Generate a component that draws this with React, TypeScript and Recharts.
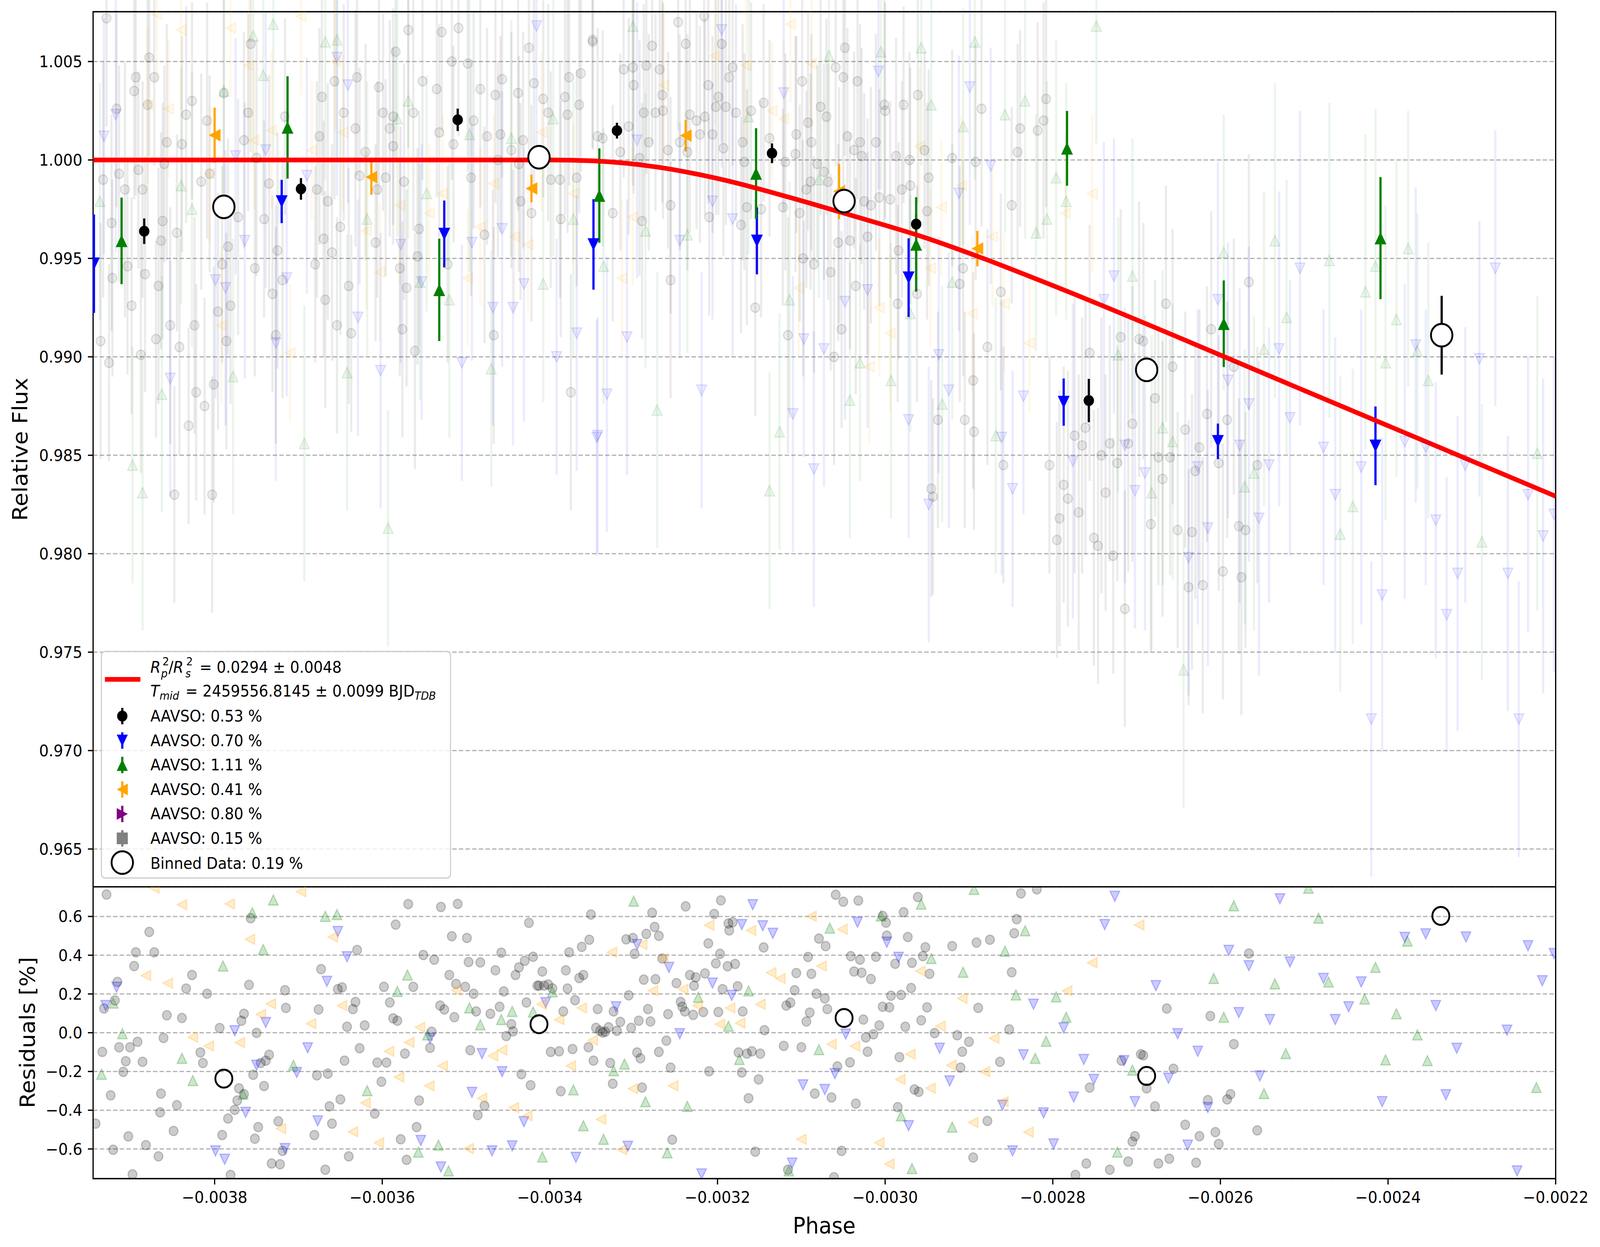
import {
  ComposedChart,
  Scatter,
  Line,
  XAxis,
  YAxis,
  CartesianGrid,
  ErrorBar,
  ReferenceArea,
} from 'recharts'

// ---- axes -------------------------------------------------------------
const PHASE_DOMAIN = [-0.003945, -0.0022]
const PHASE_TICKS = [-0.0038, -0.0036, -0.0034, -0.0032, -0.003, -0.0028, -0.0026, -0.0024, -0.0022]
const FLUX_DOMAIN = [0.96308, 1.00753]
const FLUX_TICKS = [0.965, 0.97, 0.975, 0.98, 0.985, 0.99, 0.995, 1.0, 1.005]
const RESID_DOMAIN = [-0.753, 0.753]
const RESID_TICKS = [-0.6, -0.4, -0.2, 0, 0.2, 0.4, 0.6]

// ---- transit model ----------------------------------------------------
const MODEL_PHASE = [-0.003945, -0.0034, -0.003351, -0.003272, -0.003193, -0.003114, -0.003036, -0.002957, -0.002878, -0.0028, -0.0025, -0.0022]
const MODEL_FLUX = [1.0, 1.0, 0.99996, 0.99964, 0.99899, 0.9981, 0.99713, 0.99612, 0.99492, 0.99362, 0.98829, 0.98292]

// ---- highlighted AAVSO points [phase, flux, err] ----------------------
const MAIN_BLACK = [
  [-0.003884, 0.99638, 0.00065], [-0.003697, 0.99853, 0.00055], [-0.00351, 1.00204, 0.00057],
  [-0.00332, 1.00149, 0.0004], [-0.003135, 1.00034, 0.0005], [-0.002963, 0.99674, 0.0005],
  [-0.002757, 0.98778, 0.0011],
]
const MAIN_BLUE = [
  [-0.003944, 0.99473, 0.0025], [-0.00372, 0.99789, 0.0011], [-0.003526, 0.99624, 0.0017],
  [-0.003348, 0.99571, 0.0023], [-0.003153, 0.99589, 0.0017], [-0.002972, 0.99402, 0.002],
  [-0.002787, 0.9877, 0.0012], [-0.002603, 0.98571, 0.0009], [-0.002415, 0.98548, 0.002],
]
const MAIN_GREEN = [
  [-0.003911, 0.99589, 0.0022], [-0.003713, 1.00165, 0.0026], [-0.003532, 0.9934, 0.0026],
  [-0.003341, 0.99819, 0.0024], [-0.003154, 0.99931, 0.0023], [-0.002963, 0.99571, 0.0024],
  [-0.002783, 1.00059, 0.0019], [-0.002596, 0.99168, 0.0022], [-0.002409, 0.99603, 0.0031],
]
const MAIN_ORANGE = [
  [-0.0038, 1.00126, 0.0014], [-0.003613, 0.99913, 0.0009], [-0.003422, 0.99855, 0.0007],
  [-0.003238, 1.00124, 0.0008], [-0.003055, 0.9984, 0.0014], [-0.00289, 0.9955, 0.0009],
]
const BINNED = [
  [-0.003789, 0.99762, 0.0004], [-0.003413, 1.00014, 0.0004], [-0.003049, 0.99791, 0.0006],
  [-0.002688, 0.98934, 0.0006], [-0.002336, 0.9911, 0.002],
]

// ---- faint raw measurements [phase, flux, err] ------------------------
const RAW_GRAY = [
  [-0.003929, 1.0072, 0.0055], [-0.003878, 1.0052, 0.005], [-0.003894, 1.0042, 0.006], [-0.003872, 1.0042, 0.0045],
  [-0.003896, 1.0035, 0.0055], [-0.003827, 1.003, 0.005], [-0.00388, 1.0028, 0.0065], [-0.003834, 1.0023, 0.0055],
  [-0.003809, 1.002, 0.006], [-0.00376, 1.0024, 0.005], [-0.003757, 1.0059, 0.0055], [-0.003789, 1.0034, 0.006],
  [-0.003917, 1.0026, 0.005], [-0.003933, 0.999, 0.006], [-0.003914, 0.9993, 0.0055], [-0.003891, 0.9995, 0.005],
  [-0.003907, 0.9985, 0.0065], [-0.003886, 0.9985, 0.0055], [-0.00386, 0.9998, 0.005], [-0.003857, 1.0009, 0.006],
  [-0.003839, 1.0008, 0.0055], [-0.003923, 0.9968, 0.0055], [-0.003862, 0.9969, 0.006], [-0.003845, 0.9963, 0.005],
  [-0.003864, 0.9959, 0.0055], [-0.003883, 0.9942, 0.006], [-0.003904, 0.9946, 0.0055], [-0.003922, 0.994, 0.005],
  [-0.003867, 0.9936, 0.006], [-0.003899, 0.9926, 0.0055], [-0.003853, 0.9916, 0.006], [-0.003824, 0.9916, 0.0055],
  [-0.00387, 0.9909, 0.005], [-0.003888, 0.9901, 0.006], [-0.003842, 0.9905, 0.0055], [-0.003926, 0.9897, 0.005],
  [-0.003936, 0.9908, 0.006], [-0.003822, 0.9882, 0.0055], [-0.003801, 0.9886, 0.006], [-0.003812, 0.9875, 0.0055],
  [-0.003831, 0.9865, 0.005], [-0.003848, 0.983, 0.0055], [-0.003803, 0.983, 0.006], [-0.003816, 0.9989, 0.0055],
  [-0.003806, 0.9993, 0.005], [-0.003772, 0.9971, 0.006], [-0.003784, 0.9956, 0.0055], [-0.003791, 0.9947, 0.005],
  [-0.003796, 0.9923, 0.006], [-0.003786, 0.9908, 0.0055], [-0.003781, 0.9926, 0.005], [-0.003765, 1.001, 0.0055],
  [-0.00375, 1.0001, 0.006], [-0.003735, 0.9988, 0.0055], [-0.003741, 0.997, 0.005], [-0.003725, 0.9954, 0.006],
  [-0.003752, 0.9945, 0.0055], [-0.003731, 0.9932, 0.005], [-0.003719, 0.9939, 0.006], [-0.003727, 0.9911, 0.0055],
  [-0.003716, 1.0022, 0.005], [-0.003678, 0.9985, 0.0055], [-0.003665, 0.9979, 0.006], [-0.003675, 1.0012, 0.0055],
  [-0.003672, 1.0032, 0.005], [-0.003657, 1.004, 0.006], [-0.003646, 1.0024, 0.0055], [-0.00363, 1.0042, 0.005],
  [-0.003604, 1.0037, 0.0055], [-0.003569, 1.0066, 0.006], [-0.003584, 1.0055, 0.0055], [-0.003529, 1.0065, 0.005],
  [-0.003509, 1.0067, 0.0055], [-0.003517, 1.005, 0.006], [-0.003498, 1.0049, 0.0055], [-0.003552, 1.004, 0.005],
  [-0.003535, 1.0036, 0.0055], [-0.003483, 1.0036, 0.006], [-0.003465, 1.0033, 0.0055], [-0.003457, 1.0041, 0.005],
  [-0.003425, 1.0057, 0.0055], [-0.003438, 1.0034, 0.006], [-0.003419, 1.0039, 0.0055], [-0.003408, 1.0031, 0.005],
  [-0.003402, 1.0024, 0.0055], [-0.003382, 1.0032, 0.006], [-0.003377, 1.0042, 0.0055], [-0.003363, 1.0044, 0.005],
  [-0.003349, 1.006, 0.0055], [-0.003379, 1.0023, 0.006], [-0.003365, 1.0028, 0.0055], [-0.003599, 1.0024, 0.005],
  [-0.003587, 1.0022, 0.0055], [-0.003563, 1.0024, 0.006], [-0.003591, 1.0016, 0.0055], [-0.003587, 1.0007, 0.005],
  [-0.00362, 1.0004, 0.0055], [-0.003632, 1.0016, 0.006], [-0.003627, 0.9992, 0.0055], [-0.003596, 0.9991, 0.005],
  [-0.003606, 0.9985, 0.0055], [-0.003574, 0.9989, 0.006], [-0.003532, 1.0014, 0.0055], [-0.003515, 1.0008, 0.005],
  [-0.003491, 1.002, 0.0055], [-0.003494, 0.9991, 0.006], [-0.003475, 1.0012, 0.0055], [-0.003459, 1.0013, 0.005],
  [-0.003432, 1.001, 0.0055], [-0.003446, 1.0005, 0.006], [-0.003437, 0.9998, 0.0055], [-0.003462, 1.0, 0.005],
  [-0.003399, 0.999, 0.0055], [-0.003388, 0.999, 0.006], [-0.003368, 0.9991, 0.0055], [-0.003435, 0.9979, 0.005],
  [-0.003422, 0.9973, 0.0055], [-0.003387, 0.997, 0.006], [-0.003343, 1.0012, 0.0055], [-0.003608, 0.9958, 0.005],
  [-0.00365, 0.9966, 0.0055], [-0.00367, 0.996, 0.006], [-0.00366, 0.9953, 0.0055], [-0.00368, 0.9947, 0.005],
  [-0.003668, 0.9929, 0.0055], [-0.00364, 0.9936, 0.006], [-0.003579, 0.9945, 0.0055], [-0.003571, 0.9935, 0.005],
  [-0.003558, 0.9951, 0.0055], [-0.003556, 0.9965, 0.006], [-0.003478, 0.9962, 0.0055], [-0.003522, 0.9947, 0.005],
  [-0.003576, 0.9914, 0.0055], [-0.003561, 0.9903, 0.006], [-0.003654, 0.9916, 0.0055], [-0.003637, 0.9912, 0.005],
  [-0.003467, 0.9911, 0.0055], [-0.003375, 0.9882, 0.006],
  [-0.003349, 1.0061, 0.0055], [-0.003278, 1.0058, 0.005], [-0.003247, 1.007, 0.0055], [-0.003216, 1.0073, 0.006],
  [-0.003238, 1.0059, 0.0055], [-0.003195, 1.0059, 0.005], [-0.003312, 1.0046, 0.0055], [-0.003301, 1.0047, 0.006],
  [-0.003285, 1.0048, 0.0055], [-0.003269, 1.0046, 0.005], [-0.0033, 1.0038, 0.0055], [-0.003211, 1.0038, 0.006],
  [-0.003266, 1.0033, 0.0055], [-0.003182, 1.0047, 0.005], [-0.003186, 1.0042, 0.0055], [-0.003199, 1.0032, 0.006],
  [-0.003288, 1.0024, 0.0055], [-0.003274, 1.0024, 0.005], [-0.003265, 1.0025, 0.0055], [-0.003233, 1.0023, 0.006],
  [-0.003225, 1.002, 0.0055], [-0.003215, 1.0022, 0.005], [-0.003178, 1.0024, 0.0055], [-0.00319, 1.0027, 0.006],
  [-0.003202, 1.0027, 0.0055], [-0.003145, 1.0029, 0.005], [-0.00316, 1.0025, 0.0055], [-0.003099, 1.004, 0.006],
  [-0.003048, 1.0057, 0.0055], [-0.003059, 1.0047, 0.005], [-0.00305, 1.0042, 0.0055], [-0.003033, 1.004, 0.006],
  [-0.003077, 1.0027, 0.0055], [-0.00307, 1.0022, 0.005], [-0.003092, 1.0019, 0.0055], [-0.003001, 1.0028, 0.006],
  [-0.003, 1.0025, 0.0055], [-0.002978, 1.0028, 0.005], [-0.002961, 1.0033, 0.0055], [-0.002885, 1.0026, 0.006],
  [-0.002808, 1.0031, 0.0055], [-0.002839, 1.0016, 0.005], [-0.002818, 1.0015, 0.0055], [-0.002811, 1.002, 0.006],
  [-0.003337, 1.0011, 0.0055], [-0.003316, 1.0004, 0.005], [-0.003306, 1.0017, 0.0055], [-0.003293, 1.0001, 0.006],
  [-0.003282, 1.0009, 0.0055], [-0.003259, 1.0005, 0.005], [-0.003245, 1.0009, 0.0055], [-0.003236, 1.0004, 0.006],
  [-0.003221, 1.0013, 0.0055], [-0.003206, 1.0013, 0.005], [-0.003193, 1.0006, 0.0055], [-0.00317, 1.0009, 0.006],
  [-0.003168, 0.9999, 0.0055], [-0.003138, 1.0011, 0.005], [-0.003119, 0.9999, 0.0055], [-0.003107, 1.0003, 0.006],
  [-0.003088, 1.0009, 0.0055], [-0.003106, 1.0013, 0.005], [-0.003045, 1.0012, 0.0055], [-0.00303, 1.0009, 0.006],
  [-0.003011, 1.0009, 0.0055], [-0.003037, 1.0005, 0.005], [-0.003028, 1.0002, 0.0055], [-0.002987, 1.0002, 0.006],
  [-0.002971, 1.0, 0.0055], [-0.002953, 1.0005, 0.005], [-0.00292, 1.0001, 0.0055], [-0.002892, 0.9999, 0.006],
  [-0.002842, 1.0004, 0.0055], [-0.003081, 0.9998, 0.005], [-0.003073, 0.9994, 0.0055], [-0.003068, 0.9989, 0.006],
  [-0.003089, 0.9989, 0.0055], [-0.003094, 0.9985, 0.005], [-0.003025, 0.9979, 0.0055], [-0.003017, 0.9977, 0.006],
  [-0.003007, 0.9981, 0.0055], [-0.002994, 0.998, 0.005], [-0.00298, 0.9985, 0.0055], [-0.00297, 0.9987, 0.006],
  [-0.002948, 0.9991, 0.0055], [-0.002849, 0.9977, 0.005], [-0.003325, 0.9973, 0.0055], [-0.00329, 0.9969, 0.006],
  [-0.003256, 0.9977, 0.0055], [-0.00321, 0.9971, 0.005], [-0.003172, 0.9967, 0.0055], [-0.003165, 0.9976, 0.006],
  [-0.003148, 0.9975, 0.0055], [-0.003122, 0.9976, 0.005], [-0.003102, 0.9973, 0.0055], [-0.003055, 0.9977, 0.006],
  [-0.00295, 0.9974, 0.0055], [-0.003056, 0.9958, 0.005], [-0.003042, 0.9959, 0.0055], [-0.003021, 0.9961, 0.006],
  [-0.002984, 0.9954, 0.0055], [-0.002985, 0.9927, 0.005], [-0.002962, 0.9932, 0.0055], [-0.002911, 0.9937, 0.006],
  [-0.002907, 0.9945, 0.0055], [-0.002862, 0.9933, 0.005], [-0.003035, 0.9936, 0.0055], [-0.003098, 0.995, 0.006],
  [-0.003085, 0.9947, 0.0055], [-0.003065, 0.9943, 0.005], [-0.003155, 0.9925, 0.0055], [-0.003116, 0.9911, 0.006],
  [-0.003061, 0.99, 0.0055], [-0.003052, 0.9914, 0.005], [-0.002895, 0.9888, 0.0055], [-0.002878, 0.9905, 0.006],
  [-0.002905, 0.9868, 0.0055], [-0.002894, 0.9862, 0.005], [-0.002937, 0.9868, 0.0055], [-0.002859, 0.9845, 0.006],
  [-0.002945, 0.9833, 0.0055], [-0.002943, 0.9829, 0.005], [-0.002804, 0.9845, 0.0055], [-0.003256, 0.9939, 0.006],
  [-0.002566, 0.9938, 0.0065], [-0.002665, 0.9927, 0.006], [-0.002719, 0.991, 0.0065], [-0.002697, 0.9909, 0.007],
  [-0.002692, 0.9908, 0.006], [-0.002756, 0.9902, 0.0065], [-0.002611, 0.9914, 0.006], [-0.002657, 0.9895, 0.007],
  [-0.002584, 0.9895, 0.0065], [-0.002678, 0.9879, 0.006], [-0.002616, 0.9871, 0.0065], [-0.002705, 0.9866, 0.007],
  [-0.002642, 0.9863, 0.006], [-0.002761, 0.9864, 0.0065], [-0.002592, 0.9868, 0.006], [-0.002774, 0.986, 0.007],
  [-0.002765, 0.9855, 0.0065], [-0.002732, 0.9856, 0.006], [-0.00271, 0.9856, 0.0065], [-0.002742, 0.985, 0.007],
  [-0.002723, 0.9846, 0.006], [-0.002674, 0.9849, 0.0065], [-0.00266, 0.9849, 0.006], [-0.002625, 0.9854, 0.007],
  [-0.002602, 0.9846, 0.0065], [-0.002556, 0.9845, 0.006], [-0.00263, 0.9842, 0.0065], [-0.002669, 0.9838, 0.007],
  [-0.002787, 0.9835, 0.006], [-0.002782, 0.9828, 0.0065], [-0.002737, 0.9831, 0.006], [-0.002769, 0.9821, 0.007],
  [-0.002792, 0.9818, 0.0065], [-0.002795, 0.9807, 0.006], [-0.002751, 0.9808, 0.0065], [-0.002746, 0.9804, 0.007],
  [-0.002728, 0.9799, 0.006], [-0.002683, 0.9815, 0.0065], [-0.002651, 0.9812, 0.006], [-0.002634, 0.9811, 0.007],
  [-0.002578, 0.9814, 0.0065], [-0.00257, 0.9812, 0.006], [-0.002597, 0.9791, 0.0065], [-0.002575, 0.9788, 0.007],
  [-0.002638, 0.9783, 0.006], [-0.002621, 0.9784, 0.0065], [-0.002714, 0.9772, 0.006],
]
const RAW_BLUE = [
  [-0.003932, 1.0012, 0.006], [-0.003918, 1.0023, 0.007], [-0.003775, 1.0002, 0.006], [-0.003739, 1.0005, 0.007],
  [-0.00369, 0.9992, 0.006], [-0.003654, 1.0052, 0.007], [-0.003641, 1.0038, 0.006], [-0.003764, 0.9959, 0.007],
  [-0.003799, 0.9939, 0.006], [-0.003787, 0.9935, 0.007], [-0.003714, 0.994, 0.006], [-0.003727, 0.9907, 0.007],
  [-0.003629, 0.992, 0.006], [-0.003602, 0.9893, 0.007], [-0.003578, 0.9957, 0.006], [-0.003553, 0.9938, 0.007],
  [-0.003505, 0.9897, 0.006], [-0.003457, 0.9965, 0.007], [-0.003493, 0.9958, 0.006], [-0.003431, 0.9937, 0.007],
  [-0.003468, 0.9925, 0.006], [-0.003444, 0.9925, 0.007], [-0.003392, 0.99, 0.006], [-0.003368, 0.9912, 0.007],
  [-0.003343, 0.986, 0.006], [-0.003416, 1.0068, 0.007], [-0.003853, 0.9889, 0.006],
  [-0.003195, 1.0066, 0.007], [-0.003008, 1.0045, 0.006], [-0.002899, 1.0037, 0.007], [-0.003121, 1.0034, 0.006],
  [-0.003296, 1.001, 0.007], [-0.003206, 0.9979, 0.006], [-0.003182, 0.997, 0.007], [-0.003245, 0.9959, 0.006],
  [-0.002912, 0.9983, 0.007], [-0.002874, 0.9997, 0.006], [-0.003308, 0.991, 0.007], [-0.003097, 0.9909, 0.006],
  [-0.003073, 0.9904, 0.007], [-0.003048, 0.9928, 0.006], [-0.003021, 0.9934, 0.007], [-0.002936, 0.9901, 0.006],
  [-0.002924, 0.9883, 0.007], [-0.002835, 0.988, 0.006], [-0.003332, 0.9881, 0.007], [-0.003219, 0.9883, 0.006],
  [-0.00311, 0.9871, 0.007], [-0.002972, 0.9868, 0.006], [-0.002861, 0.9859, 0.007], [-0.003344, 0.9859, 0.006],
  [-0.003085, 0.9843, 0.007], [-0.002848, 0.9833, 0.006], [-0.002948, 0.9825, 0.007],
  [-0.002727, 0.9941, 0.007], [-0.002739, 0.9929, 0.008], [-0.002603, 0.9929, 0.007], [-0.002505, 0.9945, 0.008],
  [-0.002272, 0.9945, 0.007], [-0.00253, 0.9904, 0.008], [-0.002591, 0.9888, 0.007], [-0.002566, 0.9876, 0.008],
  [-0.002517, 0.9869, 0.007], [-0.002367, 0.9906, 0.008], [-0.002291, 0.9899, 0.007], [-0.002776, 0.9847, 0.008],
  [-0.002714, 0.9855, 0.007], [-0.002577, 0.9855, 0.008], [-0.002477, 0.9854, 0.007], [-0.00238, 0.9857, 0.008],
  [-0.002355, 0.9854, 0.007], [-0.002627, 0.9844, 0.008], [-0.002542, 0.9845, 0.007], [-0.002432, 0.9844, 0.008],
  [-0.002308, 0.9845, 0.007], [-0.00269, 0.9841, 0.008], [-0.002702, 0.9832, 0.007], [-0.002463, 0.983, 0.008],
  [-0.002233, 0.983, 0.007], [-0.002202, 0.982, 0.008], [-0.002615, 0.9813, 0.007], [-0.002554, 0.9818, 0.008],
  [-0.002343, 0.9817, 0.007], [-0.002215, 0.9809, 0.008], [-0.002638, 0.9798, 0.007], [-0.002317, 0.979, 0.008],
  [-0.002257, 0.979, 0.007], [-0.002407, 0.9779, 0.008], [-0.00233, 0.9769, 0.007], [-0.00242, 0.9716, 0.008],
  [-0.002244, 0.9716, 0.007],
]
const RAW_GREEN = [
  [-0.00373, 1.0069, 0.007], [-0.003754, 1.0063, 0.006], [-0.003742, 1.0043, 0.007], [-0.003789, 1.0035, 0.006],
  [-0.003668, 1.006, 0.007], [-0.003654, 1.0061, 0.006], [-0.003569, 1.003, 0.007], [-0.003582, 1.0021, 0.006],
  [-0.003496, 1.0013, 0.007], [-0.003446, 1.0011, 0.006], [-0.003396, 1.0021, 0.007], [-0.00384, 0.9987, 0.006],
  [-0.003827, 0.9975, 0.007], [-0.003937, 0.9979, 0.006], [-0.003618, 0.997, 0.007], [-0.003547, 0.9983, 0.006],
  [-0.003372, 0.997, 0.007], [-0.003408, 0.9937, 0.006], [-0.00352, 0.9929, 0.007], [-0.003555, 0.9938, 0.006],
  [-0.003778, 0.989, 0.007], [-0.003863, 0.9881, 0.006], [-0.003642, 0.9892, 0.007], [-0.00347, 0.9894, 0.006],
  [-0.003693, 0.9856, 0.007], [-0.003898, 0.9845, 0.006], [-0.003886, 0.9831, 0.007], [-0.003593, 0.9813, 0.006],
  [-0.003301, 1.0068, 0.007], [-0.003067, 1.0053, 0.006], [-0.003005, 1.0055, 0.007], [-0.002957, 1.0057, 0.006],
  [-0.002893, 1.006, 0.007], [-0.002748, 1.0068, 0.006], [-0.002945, 1.0028, 0.007], [-0.002857, 1.0023, 0.006],
  [-0.002833, 1.003, 0.007], [-0.002907, 1.0017, 0.006], [-0.003163, 1.0022, 0.007], [-0.003079, 0.999, 0.006],
  [-0.002796, 0.9991, 0.007], [-0.002784, 0.9979, 0.006], [-0.002807, 0.997, 0.007], [-0.00282, 0.9963, 0.006],
  [-0.003286, 0.9964, 0.007], [-0.003236, 0.9962, 0.006], [-0.003336, 0.9946, 0.007], [-0.003114, 0.9929, 0.006],
  [-0.00292, 0.9938, 0.007], [-0.00297, 0.9922, 0.006], [-0.002993, 0.9888, 0.007], [-0.00303, 0.9897, 0.006],
  [-0.003042, 0.9878, 0.007], [-0.002932, 0.9876, 0.006], [-0.003272, 0.9873, 0.007], [-0.003126, 0.9862, 0.006],
  [-0.002868, 0.986, 0.007], [-0.003138, 0.9832, 0.006],
  [-0.002535, 0.9959, 0.008], [-0.002596, 0.9953, 0.007], [-0.00247, 0.9949, 0.008], [-0.002376, 0.9955, 0.007],
  [-0.002415, 0.9946, 0.008], [-0.002705, 0.9941, 0.007], [-0.002427, 0.9933, 0.008], [-0.002521, 0.992, 0.007],
  [-0.00239, 0.9919, 0.008], [-0.002722, 0.9901, 0.007], [-0.002548, 0.9904, 0.008], [-0.002365, 0.9903, 0.007],
  [-0.002403, 0.9897, 0.008], [-0.002352, 0.9888, 0.007], [-0.002669, 0.9864, 0.008], [-0.002657, 0.9857, 0.007],
  [-0.00256, 0.9841, 0.008], [-0.002571, 0.9834, 0.007], [-0.002682, 0.9831, 0.008], [-0.002442, 0.9824, 0.007],
  [-0.002457, 0.981, 0.008], [-0.002288, 0.9806, 0.007], [-0.002222, 0.9851, 0.008], [-0.002644, 0.9741, 0.007],
]
const RAW_ORANGE = [
  [-0.003869, 1.0074, 0.0035], [-0.00384, 1.0066, 0.004], [-0.003781, 1.0067, 0.0035], [-0.003697, 1.0073, 0.004],
  [-0.003855, 1.0026, 0.0035], [-0.00388, 1.0028, 0.004], [-0.003806, 0.9993, 0.0035], [-0.003732, 1.0015, 0.004],
  [-0.003753, 1.001, 0.0035], [-0.003647, 1.0014, 0.004], [-0.003684, 1.0005, 0.0035], [-0.003619, 0.9964, 0.004],
  [-0.003603, 0.9943, 0.0035], [-0.003579, 0.9977, 0.004], [-0.003544, 0.9973, 0.0035], [-0.003528, 0.9983, 0.004],
  [-0.003498, 0.994, 0.0035], [-0.003483, 0.9966, 0.004], [-0.003467, 0.9988, 0.0035], [-0.003442, 0.9961, 0.004],
  [-0.003426, 0.9957, 0.0035], [-0.00341, 1.0014, 0.004], [-0.003372, 0.9983, 0.0035], [-0.003792, 0.9916, 0.004],
  [-0.00371, 0.9902, 0.0035], [-0.003759, 1.0048, 0.004], [-0.003656, 1.005, 0.0035],
  [-0.003113, 1.0069, 0.004], [-0.003135, 1.0025, 0.0035], [-0.003121, 1.0021, 0.004], [-0.003203, 1.0053, 0.0035],
  [-0.003166, 1.0048, 0.004], [-0.003088, 1.0049, 0.0035], [-0.003264, 1.0038, 0.004], [-0.003301, 0.9971, 0.0035],
  [-0.002959, 1.0007, 0.004], [-0.002909, 0.9987, 0.0035], [-0.002753, 0.9983, 0.004], [-0.002933, 0.9976, 0.0035],
  [-0.002946, 0.9945, 0.004], [-0.002872, 0.9961, 0.0035], [-0.002785, 0.9973, 0.004], [-0.002858, 0.9927, 0.0035],
  [-0.002896, 0.9922, 0.004], [-0.002828, 0.9907, 0.0035], [-0.002994, 0.9912, 0.004], [-0.003007, 0.9925, 0.0035],
  [-0.003314, 0.994, 0.004], [-0.003103, 0.9935, 0.0035], [-0.003019, 0.9895, 0.004],
]

// ---- residuals [phase, residual %] ------------------------------------
const RES_GRAY = [
  [-0.003929, 0.713], [-0.003878, 0.52], [-0.003894, 0.415], [-0.003872, 0.415], [-0.003896, 0.344], [-0.003916, 0.262],
  [-0.003919, 0.167], [-0.003932, 0.125], [-0.003827, 0.298], [-0.003834, 0.228], [-0.003809, 0.201], [-0.003857, 0.09],
  [-0.003839, 0.076], [-0.003861, -0.027], [-0.003892, -0.047], [-0.003914, -0.075], [-0.003934, -0.099], [-0.003901, -0.075],
  [-0.003906, -0.147], [-0.003886, -0.15], [-0.003909, -0.202], [-0.003924, -0.323], [-0.003942, -0.469], [-0.003903, -0.535],
  [-0.003882, -0.58], [-0.003921, -0.604], [-0.003867, -0.638], [-0.003898, -0.731], [-0.003864, -0.314], [-0.003845, -0.374],
  [-0.003849, -0.507], [-0.003865, -0.411], [-0.003817, -0.102], [-0.003814, -0.156], [-0.003794, 0.024], [-0.003768, 0.062],
  [-0.003765, 0.098], [-0.00375, -0.001], [-0.003735, -0.114], [-0.003739, -0.144], [-0.003745, -0.156], [-0.003754, -0.217],
  [-0.003771, -0.287], [-0.003741, -0.275], [-0.003765, -0.317], [-0.003773, -0.35], [-0.003776, -0.398], [-0.003784, -0.443],
  [-0.003791, -0.528], [-0.003752, -0.547], [-0.003748, -0.487], [-0.003724, -0.457], [-0.003732, -0.675], [-0.003722, -0.679],
  [-0.003719, -0.61], [-0.003781, -0.734], [-0.003759, 0.247], [-0.003757, 0.591], [-0.003716, 0.219], [-0.003715, 0.128],
  [-0.003681, -0.528], [-0.003678, -0.22], [-0.003665, -0.211], [-0.003673, 0.328], [-0.003676, 0.12], [-0.003668, -0.707],
  [-0.00366, -0.469], [-0.003663, -0.38], [-0.00365, -0.344], [-0.003653, 0.225], [-0.003648, 0.234], [-0.00364, -0.638],
  [-0.003645, -0.144], [-0.003642, 0.031], [-0.003632, 0.159], [-0.003635, 0.122], [-0.00363, 0.427], [-0.003627, -0.08],
  [-0.003621, 0.038], [-0.003609, -0.417], [-0.003606, -0.154], [-0.003595, -0.154], [-0.003601, -0.253], [-0.003598, 0.237],
  [-0.003591, 0.156], [-0.003587, 0.074], [-0.003582, 0.062], [-0.003584, 0.558], [-0.003569, 0.664], [-0.003578, -0.55],
  [-0.003573, -0.108], [-0.003571, -0.656], [-0.003563, 0.237], [-0.003559, -0.487], [-0.003556, -0.35], [-0.003551, 0.401],
  [-0.003543, -0.078], [-0.003541, 0.005], [-0.003538, 0.377], [-0.003531, 0.14], [-0.003526, 0.12], [-0.00353, 0.649],
  [-0.00352, 0.298], [-0.003514, 0.08], [-0.00351, 0.665], [-0.003512, 0.252], [-0.003501, 0.237], [-0.003499, 0.489],
  [-0.003517, 0.498], [-0.003497, 0.365], [-0.003491, 0.201], [-0.003495, -0.09], [-0.003488, 0.11], [-0.003478, -0.377],
  [-0.003486, -0.425], [-0.003483, 0.363], [-0.003471, 0.098], [-0.003465, 0.322], [-0.00346, 0.134], [-0.003458, 0.413],
  [-0.003455, 0.213], [-0.003452, -0.017], [-0.003444, 0.007], [-0.003446, 0.044], [-0.003441, 0.298], [-0.003437, 0.337],
  [-0.003434, -0.214], [-0.00343, 0.371], [-0.003428, 0.156], [-0.003425, 0.567], [-0.00342, 0.392], [-0.003423, -0.271],
  [-0.003413, 0.243], [-0.003409, 0.316], [-0.003415, 0.243], [-0.003407, 0.243], [-0.003402, 0.249], [-0.003399, -0.099],
  [-0.003397, 0.229], [-0.003389, -0.096], [-0.003387, -0.302], [-0.003384, 0.11], [-0.003381, 0.322], [-0.003379, 0.228],
  [-0.003377, 0.415], [-0.003373, -0.084], [-0.00337, 0.168], [-0.003365, 0.282], [-0.003362, 0.443], [-0.00336, 0.298],
  [-0.003353, 0.48], [-0.003354, -0.075], [-0.003351, 0.61], [-0.003348, -0.144], [-0.003345, 0.025], [-0.003343, 0.122],
  [-0.00334, 0.01], [-0.003337, 0.001], [-0.003334, 0.005], [-0.00333, 0.028], [-0.003328, -0.156], [-0.003324, 0.11],
  [-0.00332, 0.01], [-0.003325, -0.263], [-0.003316, 0.056], [-0.003309, 0.482], [-0.003306, 0.193], [-0.003303, 0.025],
  [-0.003299, 0.407], [-0.003301, 0.489], [-0.003296, -0.102], [-0.003292, -0.132], [-0.003294, 0.062], [-0.00329, -0.283],
  [-0.003288, 0.274], [-0.003285, 0.51], [-0.00328, 0.058], [-0.003283, 0.122], [-0.003278, 0.619], [-0.003274, 0.276],
  [-0.003275, 0.546], [-0.00327, 0.5], [-0.00327, -0.099], [-0.003266, 0.383], [-0.003261, -0.041], [-0.003259, 0.096],
  [-0.003256, -0.18], [-0.003254, -0.552], [-0.003249, 0.256], [-0.003244, 0.159], [-0.003242, 0.134], [-0.003239, 0.11],
  [-0.003238, 0.652], [-0.003233, 0.298], [-0.003229, 0.092], [-0.003228, 0.243], [-0.003226, 0.286], [-0.003217, 0.107],
  [-0.003215, 0.306], [-0.003211, 0.461], [-0.00321, -0.199], [-0.003204, 0.613], [-0.003202, 0.358], [-0.003199, 0.107],
  [-0.003197, 0.407], [-0.003196, 0.683], [-0.003194, 0.225], [-0.003187, 0.564], [-0.003186, 0.528], [-0.003188, 0.343],
  [-0.003182, 0.57], [-0.003179, 0.355], [-0.003176, 0.24], [-0.003175, -0.102], [-0.003171, -0.205], [-0.00317, 0.11],
  [-0.003165, -0.108], [-0.003163, -0.338], [-0.003159, -0.096], [-0.003155, -0.614], [-0.003151, -0.241], [-0.003149, -0.108],
  [-0.003145, 0.44], [-0.003144, 0.013], [-0.003121, -0.068], [-0.003118, 0.14], [-0.003116, -0.707], [-0.003113, 0.155],
  [-0.003106, 0.308], [-0.003108, 0.219], [-0.0031, -0.075], [-0.003094, 0.058], [-0.003092, 0.391], [-0.00309, 0.104],
  [-0.003088, 0.304],
  [-0.003059, 0.712], [-0.00305, 0.676], [-0.003032, 0.682], [-0.002961, 0.7], [-0.002978, 0.622], [-0.003003, 0.603],
  [-0.002999, 0.568], [-0.002998, 0.501], [-0.002973, 0.494], [-0.003079, 0.486], [-0.003071, 0.447], [-0.002952, 0.441],
  [-0.00292, 0.447], [-0.002891, 0.465], [-0.002875, 0.48], [-0.002843, 0.586], [-0.002846, 0.513], [-0.002838, 0.719],
  [-0.002819, 0.74], [-0.003041, 0.395], [-0.00303, 0.377], [-0.003011, 0.392], [-0.002988, 0.356], [-0.002968, 0.361],
  [-0.002955, 0.395], [-0.003037, 0.316], [-0.003028, 0.31], [-0.003017, 0.277], [-0.002947, 0.304], [-0.002849, 0.312],
  [-0.002969, 0.231], [-0.003082, 0.201], [-0.003072, 0.177], [-0.002993, 0.191], [-0.002981, 0.195], [-0.003069, 0.122],
  [-0.003003, 0.134], [-0.002995, 0.131], [-0.00295, 0.131], [-0.002889, 0.128], [-0.003026, 0.068], [-0.003007, 0.038],
  [-0.002976, 0.031], [-0.002957, 0.064], [-0.002941, -0.002], [-0.002914, -0.013], [-0.003014, -0.008], [-0.003023, -0.024],
  [-0.0029, -0.047], [-0.002852, 0.017], [-0.003021, -0.098], [-0.002983, -0.126], [-0.002908, -0.098], [-0.003042, -0.153],
  [-0.003057, -0.174], [-0.002863, -0.15], [-0.00291, -0.18], [-0.002965, -0.293], [-0.00296, -0.305], [-0.003084, -0.314],
  [-0.003064, -0.334], [-0.003035, -0.366], [-0.002985, -0.384], [-0.002878, -0.455], [-0.003052, -0.61], [-0.002895, -0.644],
  [-0.003061, -0.746], [-0.002664, 0.125], [-0.002612, 0.086], [-0.002566, 0.409], [-0.002584, -0.059], [-0.002695, -0.111],
  [-0.002692, -0.117], [-0.002718, -0.144], [-0.002656, -0.186], [-0.002688, -0.287], [-0.002756, -0.283], [-0.002678, -0.38],
  [-0.002588, -0.317], [-0.002592, -0.344], [-0.002615, -0.348], [-0.002642, -0.475], [-0.002606, -0.513], [-0.002625, -0.534],
  [-0.002602, -0.574], [-0.002556, -0.504], [-0.002702, -0.534], [-0.002705, -0.562], [-0.00271, -0.665], [-0.002732, -0.707],
  [-0.00276, -0.675], [-0.002773, -0.734], [-0.002674, -0.675], [-0.002661, -0.65], [-0.002629, -0.671],
]
const RES_BLUE = [
  [-0.00393, 0.14], [-0.003917, 0.235], [-0.003776, 0.01], [-0.003739, 0.053], [-0.00375, -0.168], [-0.003702, -0.205],
  [-0.003689, -0.078], [-0.003653, 0.522], [-0.003642, 0.392], [-0.003666, 0.265], [-0.003677, -0.455], [-0.003716, -0.598],
  [-0.003799, -0.61], [-0.003788, -0.653], [-0.003763, -0.411], [-0.003554, -0.556], [-0.00353, -0.693], [-0.003493, -0.308],
  [-0.003481, -0.108], [-0.003457, -0.201], [-0.003445, -0.584], [-0.003469, -0.61], [-0.003431, -0.459], [-0.003405, 0.155],
  [-0.003369, -0.643], [-0.003321, 0.134], [-0.003307, -0.586], [-0.003296, 0.455], [-0.003258, 0.337], [-0.003245, -0.005],
  [-0.003206, 0.256], [-0.003183, 0.193], [-0.003171, 0.558], [-0.003158, 0.661], [-0.003146, 0.552], [-0.003134, 0.513],
  [-0.003219, -0.729], [-0.003111, -0.673], [-0.003098, -0.269], [-0.003543, -0.029],
  [-0.003033, 0.57], [-0.002998, 0.467], [-0.002984, 0.389], [-0.003047, -0.007], [-0.00306, -0.211], [-0.003072, -0.293],
  [-0.002935, -0.08], [-0.002923, -0.249], [-0.002972, -0.48], [-0.00286, -0.374], [-0.002835, -0.114], [-0.002823, 0.147],
  [-0.002787, 0.025], [-0.002811, -0.414], [-0.002799, -0.574], [-0.002848, -0.61], [-0.002763, -0.138], [-0.002751, -0.241],
  [-0.002775, -0.332], [-0.002726, 0.704], [-0.002738, 0.558], [-0.002715, -0.144], [-0.002702, -0.356], [-0.002677, 0.243],
  [-0.002662, -0.235], [-0.002651, -0.005], [-0.002639, -0.58], [-0.002627, -0.096], [-0.002615, -0.386], [-0.00259, 0.425],
  [-0.002578, 0.104], [-0.002566, 0.346], [-0.002553, -0.223], [-0.002541, 0.068], [-0.002529, 0.691], [-0.002517, 0.365],
  [-0.002477, 0.28], [-0.002463, 0.068], [-0.002447, 0.134], [-0.002432, 0.262], [-0.002407, -0.356], [-0.00238, 0.492],
  [-0.002355, 0.51], [-0.002343, 0.14], [-0.002331, -0.32], [-0.002318, -0.08], [-0.002307, 0.494], [-0.002258, 0.013],
  [-0.002246, -0.713], [-0.002233, 0.449], [-0.002216, 0.268], [-0.002202, 0.409],
]
const RES_GREEN = [
  [-0.00391, -0.005], [-0.003935, -0.214], [-0.003921, 0.153], [-0.003839, -0.132], [-0.003826, -0.247], [-0.00379, 0.344],
  [-0.003755, 0.619], [-0.003742, 0.429], [-0.00373, 0.685], [-0.003668, 0.601], [-0.003654, 0.61], [-0.00357, 0.298],
  [-0.003582, 0.213], [-0.003618, -0.299], [-0.003546, -0.011], [-0.003533, -0.58], [-0.003557, -0.616], [-0.003521, -0.713],
  [-0.003496, 0.128], [-0.003483, 0.041], [-0.003458, 0.068], [-0.003445, 0.11], [-0.00342, 0.107], [-0.003397, 0.211],
  [-0.003372, -0.295], [-0.00336, -0.48], [-0.003409, -0.641], [-0.003336, -0.55], [-0.003324, -0.196], [-0.003311, -0.162],
  [-0.0033, 0.679], [-0.003286, -0.356], [-0.00326, -0.62], [-0.003236, -0.38], [-0.003223, 0.183], [-0.003187, 0.034],
  [-0.003174, -0.138], [-0.003163, 0.216], [-0.003115, -0.713], [-0.003706, -0.168], [-0.003766, -0.317],
  [-0.003066, 0.54], [-0.003005, 0.603], [-0.002957, 0.664], [-0.002945, 0.383], [-0.003079, -0.087], [-0.002981, -0.429],
  [-0.002968, -0.701], [-0.00292, -0.487], [-0.002907, 0.312], [-0.002894, 0.74], [-0.002857, 0.421], [-0.002844, 0.195],
  [-0.002833, 0.526], [-0.002821, -0.132], [-0.002808, -0.044], [-0.002796, 0.185], [-0.002784, 0.08], [-0.002723, -0.616],
  [-0.002705, -0.193], [-0.002608, 0.28], [-0.002596, 0.08], [-0.002584, 0.655], [-0.002548, -0.314], [-0.002535, 0.252],
  [-0.002522, -0.108], [-0.002495, 0.746], [-0.002483, 0.591], [-0.002471, 0.262], [-0.002428, 0.174], [-0.002415, 0.337],
  [-0.002403, -0.14], [-0.00239, 0.098], [-0.002377, 0.473], [-0.002365, -0.011], [-0.002353, -0.144], [-0.002223, -0.283],
]
const RES_ORANGE = [
  [-0.003872, 0.746], [-0.003839, 0.661], [-0.003782, 0.665], [-0.003697, 0.728], [-0.003758, 0.482], [-0.003659, 0.494],
  [-0.003882, 0.295], [-0.003856, 0.256], [-0.003826, -0.023], [-0.003807, -0.068], [-0.00377, -0.051], [-0.003745, 0.094],
  [-0.003733, 0.149], [-0.003685, 0.047], [-0.003648, 0.14], [-0.00362, -0.362], [-0.003592, -0.096], [-0.00358, -0.229],
  [-0.003568, -0.05], [-0.003555, 0.028], [-0.003544, -0.274], [-0.003528, -0.171], [-0.003512, 0.219], [-0.003481, -0.338],
  [-0.003468, -0.12], [-0.003457, -0.09], [-0.003443, -0.386], [-0.003427, -0.429], [-0.00341, 0.147], [-0.003389, 0.068],
  [-0.003375, -0.171], [-0.003362, 0.128], [-0.003349, -0.039], [-0.003339, -0.447], [-0.003326, 0.415], [-0.003314, -0.604],
  [-0.003301, -0.289], [-0.00329, 0.455], [-0.003277, 0.217], [-0.003265, 0.383], [-0.003253, -0.274], [-0.003241, 0.225],
  [-0.003224, 0.14], [-0.00321, 0.555], [-0.003197, 0.044], [-0.003185, 0.128], [-0.003173, 0.05], [-0.00316, 0.528],
  [-0.003149, 0.147], [-0.003136, 0.31], [-0.003125, 0.28], [-0.0031, -0.55], [-0.003721, -0.495], [-0.003635, -0.511],
  [-0.003604, -0.568], [-0.003497, -0.598],
  [-0.003088, 0.601], [-0.003051, 0.534], [-0.003076, 0.344], [-0.003064, -0.059], [-0.003036, -0.069], [-0.002982, -0.241],
  [-0.00297, -0.111], [-0.002958, 0.318], [-0.002946, -0.286], [-0.002934, 0.034], [-0.002921, -0.168], [-0.002908, 0.177],
  [-0.002895, -0.463], [-0.002881, -0.201], [-0.00287, -0.029], [-0.002859, -0.356], [-0.002829, -0.513], [-0.002783, 0.216],
  [-0.002753, 0.361], [-0.002697, 0.556], [-0.003007, -0.568], [-0.002995, -0.677],
]
const RES_BINNED = [
  [-0.003789, -0.237], [-0.003413, 0.044], [-0.003049, 0.076], [-0.002688, -0.223], [-0.002337, 0.603],
]

// ---- legend entries ---------------------------------------------------
const LEGEND_ROWS = [
  { label: 'AAVSO: 0.53 %', kind: 'o', color: '#000000' },
  { label: 'AAVSO: 0.70 %', kind: 'v', color: '#0000ff' },
  { label: 'AAVSO: 1.11 %', kind: '^', color: '#008000' },
  { label: 'AAVSO: 0.41 %', kind: '<', color: '#ffa500' },
  { label: 'AAVSO: 0.80 %', kind: '>', color: '#800080' },
  { label: 'AAVSO: 0.15 %', kind: 's', color: '#808080' },
]

const FONT = 'DejaVu Sans'
const W = 4331
const H = 3192
const TOP_H = 2270
const BOTTOM_H = 922

// the browser viewport is capped narrower than the figure, so the whole
// figure is laid out at full size and squeezed horizontally to fit
const fitX = () => {
  const vw = typeof window !== 'undefined' ? window.innerWidth : W
  return Math.min(1, vw / W)
}

const xy = (rows: number[][]) => rows.map(([x, y, err]) => ({ x, y, err }))
const modelData = MODEL_PHASE.map((x, i) => ({ x, y: MODEL_FLUX[i] }))

const minus = (s: string) => s.replace('-', '\u2212')
const fmtPhase = (v: number) => minus(v.toFixed(4))
const fmtFlux = (v: number) => v.toFixed(3)
const fmtResid = (v: number) => (Math.abs(v) < 1e-9 ? '0.0' : minus(v.toFixed(1)))

function markerPath(kind: string, cx: number, cy: number, s: number) {
  const h = s / 2
  if (kind === 'v') return `${cx},${cy + h} ${cx - h},${cy - h} ${cx + h},${cy - h}`
  if (kind === '^') return `${cx},${cy - h} ${cx - h},${cy + h} ${cx + h},${cy + h}`
  if (kind === '<') return `${cx - h},${cy} ${cx + h},${cy - h} ${cx + h},${cy + h}`
  return `${cx + h},${cy} ${cx - h},${cy - h} ${cx - h},${cy + h}`
}

function Marker({ kind, cx, cy, size, fill, stroke, sw }: any) {
  if (kind === 'o') return <circle cx={cx} cy={cy} r={size / 2} fill={fill} stroke={stroke} strokeWidth={sw} />
  if (kind === 's')
    return <rect x={cx - size / 2} y={cy - size / 2} width={size} height={size} fill={fill} stroke={stroke} strokeWidth={sw} />
  return <polygon points={markerPath(kind, cx, cy, size)} fill={fill} stroke={stroke} strokeWidth={sw} />
}

const shape = (kind: string, size: number, fill: string, stroke: string, sw: number) => (p: any) =>
  p.cx == null || p.cy == null ? <g /> : <Marker kind={kind} cx={p.cx} cy={p.cy} size={size} fill={fill} stroke={stroke} sw={sw} />

const tickStyle = { fill: '#000', fontSize: 41, fontFamily: FONT }
const tickLine = { stroke: '#000', strokeWidth: 3.3 }

function Legend() {
  const t = { fontFamily: FONT, fontSize: 40, fill: '#000' }
  const s = { fontFamily: FONT, fontSize: 28, fill: '#000' }
  return (
    <svg width={948} height={583} style={{ position: 'absolute', left: 273, top: 1666 }}>
      <rect x={1.5} y={1.5} width={945} height={580} rx={10} fill="#fff" fillOpacity={0.8} stroke="#cccccc" strokeWidth={3} />
      <line x1={11} x2={107} y1={73} y2={73} stroke="#ff0000" strokeWidth={12} />
      <text x={134} y={56} {...t} fontStyle="italic">R</text>
      <text x={167} y={37} {...s}>2</text>
      <text x={163} y={68} {...s} fontStyle="italic">p</text>
      <text x={183} y={56} {...t}>/</text>
      <text x={196} y={56} {...t} fontStyle="italic">R</text>
      <text x={231} y={37} {...s}>2</text>
      <text x={229} y={68} {...s} fontStyle="italic">s</text>
      <text x={267} y={56} {...t}>= 0.0294 ± 0.0048</text>
      <text x={134} y={117} {...t} fontStyle="italic">T</text>
      <text x={159} y={125} {...s} fontStyle="italic">mid</text>
      <text x={229} y={117} {...t}>
        = 2459556.8145 ± 0.0099 BJD
        <tspan dy={8} fontSize={28} fontStyle="italic">TDB</tspan>
      </text>
      {LEGEND_ROWS.map((r, i) => {
        const cy = 167 + i * 62.6
        return (
          <g key={r.label}>
            <line x1={58} x2={58} y1={cy - 21} y2={cy + 21} stroke={r.color} strokeWidth={6} />
            <Marker kind={r.kind} cx={58} cy={cy} size={r.kind === 'o' ? 28 : 30} fill={r.color} stroke={r.color} sw={0} />
            <text x={134} y={cy + 14} {...t}>{r.label}</text>
          </g>
        )
      })}
      <circle cx={58} cy={542} r={29} fill="#fff" stroke="#000" strokeWidth={5} />
      <text x={134} y={558} {...t}>Binned Data: 0.19 %</text>
    </svg>
  )
}

const faint = (rows: number[][], kind: string, rgb: string, barAlpha: number) => (
  <Scatter
    key={rgb}
    data={xy(rows)}
    isAnimationActive={false}
    shape={shape(kind, kind === 'o' ? 24 : 27, `rgba(${rgb},0.07)`, `rgba(${rgb},0.12)`, 3)}
  >
    <ErrorBar dataKey="err" direction="y" width={0} stroke={`rgba(${rgb},${barAlpha})`} strokeWidth={6} isAnimationActive={false} />
  </Scatter>
)

export default function App() {
  return (
    <div
      style={{
        position: 'absolute',
        left: 0,
        top: 0,
        width: W,
        height: H,
        background: '#fff',
        transform: `scaleX(${fitX()})`,
        transformOrigin: '0 0',
      }}
    >
      <div style={{ position: 'absolute', left: 0, top: 0 }}>
        <ComposedChart width={W} height={TOP_H} margin={{ top: 30, right: 120, bottom: 0, left: 0 }}>
          <CartesianGrid vertical={false} stroke="#b0b0b0" strokeDasharray="12 6" strokeWidth={3} />
          <XAxis type="number" dataKey="x" domain={PHASE_DOMAIN} ticks={PHASE_TICKS} allowDataOverflow hide />
          <YAxis
            type="number"
            dataKey="y"
            domain={FLUX_DOMAIN}
            ticks={FLUX_TICKS}
            allowDataOverflow
            width={252}
            tickFormatter={fmtFlux}
            tick={tickStyle}
            tickLine={tickLine}
            tickSize={14}
            tickMargin={15}
            axisLine={false}
            label={() => (
              <text x={74} y={1150} transform="rotate(-90 74 1150)" textAnchor="middle" fontFamily={FONT} fontSize={57} fill="#000">
                Relative Flux
              </text>
            )}
          />
          {faint(RAW_GRAY, 'o', '0,0,0', 0.08)}
          {faint(RAW_BLUE, 'v', '0,0,255', 0.08)}
          {faint(RAW_GREEN, '^', '0,128,0', 0.08)}
          {faint(RAW_ORANGE, '<', '255,165,0', 0.09)}
          {[
            { rows: MAIN_BLACK, kind: 'o', c: '#000000', s: 28 },
            { rows: MAIN_BLUE, kind: 'v', c: '#0000ff', s: 32 },
            { rows: MAIN_GREEN, kind: '^', c: '#008000', s: 32 },
            { rows: MAIN_ORANGE, kind: '<', c: '#ffa500', s: 32 },
          ].map((m) => (
            <Scatter key={m.c} data={xy(m.rows)} isAnimationActive={false} shape={shape(m.kind, m.s, m.c, m.c, 0)}>
              <ErrorBar dataKey="err" direction="y" width={0} stroke={m.c} strokeWidth={6} isAnimationActive={false} />
            </Scatter>
          ))}
          <Line
            data={modelData}
            dataKey="y"
            type="monotone"
            stroke="#ff0000"
            strokeWidth={12}
            dot={false}
            activeDot={false}
            isAnimationActive={false}
          />
          <Scatter data={xy(BINNED)} isAnimationActive={false} shape={shape('o', 58, '#ffffff', '#000000', 5)}>
            <ErrorBar dataKey="err" direction="y" width={0} stroke="#000" strokeWidth={6} isAnimationActive={false} />
          </Scatter>
          <ReferenceArea
            x1={PHASE_DOMAIN[0]}
            x2={PHASE_DOMAIN[1]}
            y1={FLUX_DOMAIN[0]}
            y2={FLUX_DOMAIN[1]}
            fill="none"
            stroke="#000"
            strokeWidth={3.3}
            ifOverflow="visible"
          />
        </ComposedChart>
      </div>

      <div style={{ position: 'absolute', left: 0, top: TOP_H }}>
        <ComposedChart width={W} height={BOTTOM_H} margin={{ top: 0, right: 120, bottom: 0, left: 0 }}>
          <CartesianGrid vertical={false} stroke="#b0b0b0" strokeDasharray="12 6" strokeWidth={3} />
          <XAxis
            type="number"
            dataKey="x"
            domain={PHASE_DOMAIN}
            ticks={PHASE_TICKS}
            allowDataOverflow
            height={175}
            tickFormatter={fmtPhase}
            tick={tickStyle}
            tickLine={tickLine}
            tickSize={15}
            tickMargin={18}
            axisLine={false}
            label={() => (
              <text x={2231} y={887} textAnchor="middle" fontFamily={FONT} fontSize={57} fill="#000">
                Phase
              </text>
            )}
          />
          <YAxis
            type="number"
            dataKey="y"
            domain={RESID_DOMAIN}
            ticks={RESID_TICKS}
            allowDataOverflow
            width={252}
            tickFormatter={fmtResid}
            tick={tickStyle}
            tickLine={tickLine}
            tickSize={14}
            tickMargin={15}
            axisLine={false}
            label={() => (
              <text x={94} y={373} transform="rotate(-90 94 373)" textAnchor="middle" fontFamily={FONT} fontSize={57} fill="#000">
                Residuals [%]
              </text>
            )}
          />
          <Scatter data={xy(RES_GRAY)} isAnimationActive={false} shape={shape('o', 24, 'rgba(0,0,0,0.2)', 'rgba(0,0,0,0.2)', 3)} />
          <Scatter data={xy(RES_BLUE)} isAnimationActive={false} shape={shape('v', 26, 'rgba(0,0,255,0.2)', 'rgba(0,0,255,0.25)', 3)} />
          <Scatter data={xy(RES_GREEN)} isAnimationActive={false} shape={shape('^', 26, 'rgba(0,128,0,0.2)', 'rgba(0,128,0,0.25)', 3)} />
          <Scatter data={xy(RES_ORANGE)} isAnimationActive={false} shape={shape('<', 26, 'rgba(255,165,0,0.2)', 'rgba(255,165,0,0.25)', 3)} />
          <Scatter data={xy(RES_BINNED)} isAnimationActive={false} shape={shape('o', 46, 'none', '#000', 5)} />
          <ReferenceArea
            x1={PHASE_DOMAIN[0]}
            x2={PHASE_DOMAIN[1]}
            y1={RESID_DOMAIN[0]}
            y2={RESID_DOMAIN[1]}
            fill="none"
            stroke="#000"
            strokeWidth={3.3}
            ifOverflow="visible"
          />
        </ComposedChart>
      </div>

      <Legend />
    </div>
  )
}
